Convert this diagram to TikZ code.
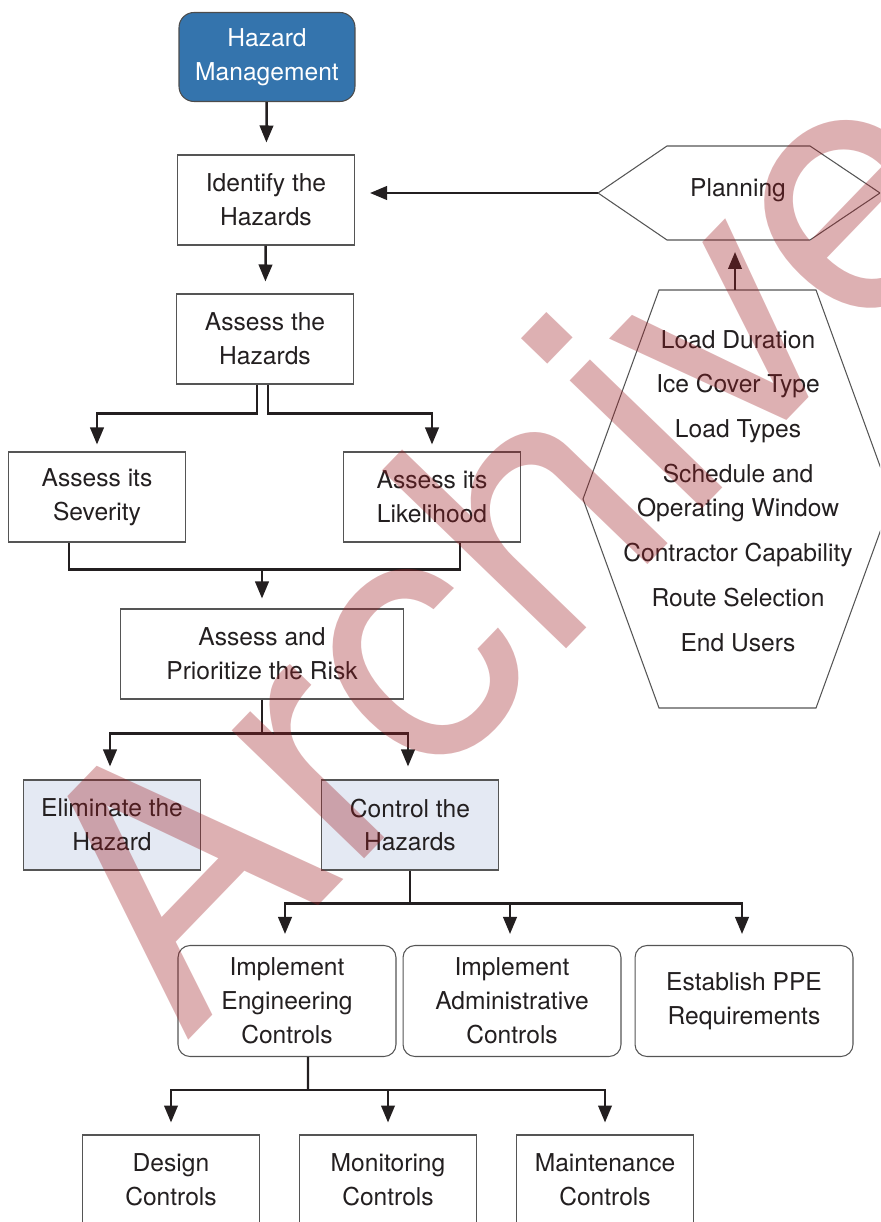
\documentclass[tikz,border=0pt]{standalone}
\usepackage{fontspec}
\setmainfont{TeX Gyre Heros}
\usetikzlibrary{arrows.meta,calc}
\definecolor{hazblue}{RGB}{52,116,173}
\definecolor{paleblue}{RGB}{228,233,243}
\definecolor{boxgray}{RGB}{85,85,85}
\definecolor{inkgray}{RGB}{35,31,32}
\definecolor{stampred}{RGB}{158,29,35}
\begin{document}
\begin{tikzpicture}[x=0.02cm,y=-0.02cm,
  every node/.style={font=\fontsize{14pt}{19.3pt}\selectfont,text=inkgray},
  box/.style={rectangle,draw=boxgray,line width=0.6pt,align=center,minimum width=3.54cm,minimum height=1.8cm,inner sep=0pt},
  softbox/.style={box,rounded corners=0.24cm,minimum width=4.36cm,minimum height=2.22cm},
  arr/.style={line width=1.4pt,draw=inkgray,-{Triangle[length=0.34cm,width=0.27cm]},shorten >=0.2cm},
  link/.style={line width=1.4pt,draw=inkgray}]%
  \useasboundingbox (0,0) rectangle (880,1222);
  \clip (0,0) rectangle (880,1222);
  % main chain
  \node[box,fill=hazblue,draw=black!70,rounded corners=0.3cm,minimum width=3.52cm,minimum height=1.78cm,text=white] (hazmgmt) at (267,57) {Hazard\\Management};
  \node[box] (identify) at (266,200) {Identify the\\Hazards};
  \node[box] (assess) at (265,339) {Assess the\\Hazards};
  \node[box] (severity) at (97,497) {Assess its\\Severity};
  \node[box] (likelihood) at (432,497) {Assess its\\Likelihood};
  \node[box,minimum width=5.66cm] (prioritize) at (262,654) {Assess and\\Prioritize the Risk};
  \node[box,fill=paleblue] (eliminate) at (112,825) {Eliminate the\\Hazard};
  \node[box,fill=paleblue] (control) at (410,825) {Control the\\Hazards};
  \node[softbox] (engctrl) at (287,1001) {Implement\\Engineering\\Controls};
  \node[softbox] (adminctrl) at (512,1001) {Implement\\Administrative\\Controls};
  \node[softbox] (ppe) at (744,1001) {Establish PPE\\Requirements};
  \node[box] (design) at (171,1180) {Design\\Controls};
  \node[box] (monitor) at (388,1180) {Monitoring\\Controls};
  \node[box] (maint) at (605,1180) {Maintenance\\Controls};

  % planning side
  \draw[draw=boxgray,line width=0.6pt] (598,193) coordinate (planL) -- (667,146) -- (810,146) -- (880,193) -- (810,240) -- (667,240) -- cycle;
  \node (planning) at (738,190) {Planning};
  \coordinate (planB) at (735,240);
  \draw[draw=boxgray,line width=0.6pt] (583,499) -- (659,290) -- (816,290) -- (892,499) -- (816,708) -- (659,708) -- cycle;
  \coordinate (facTop) at (735,290);
  \node[align=center] (factors) at (738,491) {Load Duration\\[0.22cm] Ice Cover Type\\[0.22cm] Load Types\\[0.22cm] Schedule and\\ Operating Window\\[0.22cm] Contractor Capability\\[0.22cm] Route Selection\\[0.22cm] End Users};

  % connectors
  \draw[arr,shorten >=0.24cm] (hazmgmt) -- (identify);
  \draw[arr,shorten >=0.24cm] (identify) -- (assess);
  \draw[arr,shorten >=0.3cm] (planL) -- (planL -| identify.east);
  \draw[arr,shorten >=0.24cm] (facTop) -- (planB);
  \draw[arr,shorten >=0.14cm] ([xshift=-0.16cm]assess.south) -- ++(0,29) -| (severity.north);
  \draw[arr,shorten >=0.14cm] ([xshift=0.06cm]assess.south) -- ++(0,29) -| (likelihood.north);
  \draw[link] ([xshift=-0.56cm]severity.south) -- ++(0,27) coordinate (join) -| ([xshift=0.56cm]likelihood.south);
  \draw[arr] (join -| prioritize.north) -- (prioritize.north);
  \coordinate (split1) at ($(prioritize.south)+(0,34)$);
  \draw[link] (prioritize.south) -- (split1);
  \foreach \n in {eliminate,control}
    \draw[arr,shorten >=0.26cm] (split1) -| ([xshift=-0.04cm]\n.north);
  \coordinate (split2) at ($(control.south)+(0,33)$);
  \draw[link] (control.south) -- (split2);
  \foreach \n in {engctrl,adminctrl,ppe}
    \draw[arr,shorten >=0.22cm] (split2) -| ([xshift=-0.04cm]\n.north);
  \coordinate (split3) at ($(engctrl.south)+(21,33)$);
  \draw[link] ([xshift=0.42cm]engctrl.south) -- (split3);
  \foreach \n in {design,monitor,maint}
    \draw[arr,shorten >=0.24cm] (split3) -| (\n.north);

  % watermark
  \node[rotate=46,anchor=base west,text=stampred,text opacity=0.35,inner sep=0pt,font=\fontsize{200pt}{200pt}\selectfont] (stamp) at (184,1045) {Archive};
\end{tikzpicture}
\end{document}
